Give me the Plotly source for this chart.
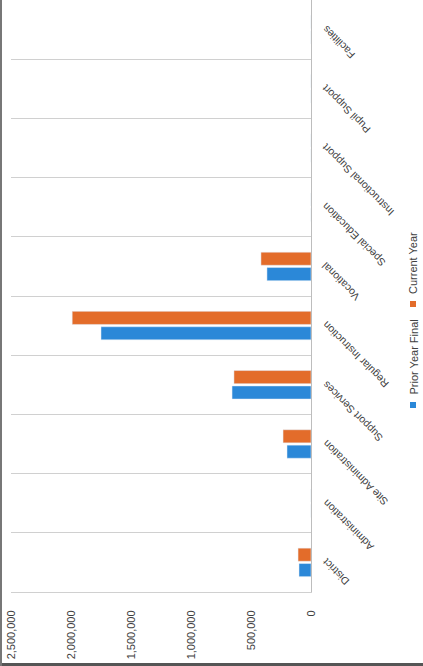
import plotly.graph_objects as go

categories = ["District", "Administration", "Site Administration", "Support Services",
              "Regular Instruction", "Vocational", "Special Education",
              "Instructional Support", "Pupil Support", "Facilities"]
prior_year_final = [100000, 0, 200000, 658000, 1750000, 367000, 0, 0, 0, 0]
current_year = [108000, 0, 233000, 642000, 1990000, 417000, 0, 0, 0, 0]
series_names = ["Prior Year Final", "Current Year"]
tick_values = [0, 500000, 1000000, 1500000, 2000000, 2500000]

BLUE = "#2b88d8"
ORANGE = "#e36c2a"
TXT = "#404040"

W, H = 423, 666
L, R, T, B = 11, 112, 0, 74
plot_w = W - L - R
plot_h = H - T - B

fig = go.Figure()
fig.add_trace(go.Bar(y=categories, x=prior_year_final, orientation="h",
                     name=series_names[0], marker_color=BLUE))
fig.add_trace(go.Bar(y=categories, x=current_year, orientation="h",
                     name=series_names[1], marker_color=ORANGE))

def px_x(px):
    return (px - L) / plot_w

def px_y(py):
    return (T + plot_h - py) / plot_h

annotations = []
for c in categories:
    annotations.append(dict(
        x=px_x(317), xref="paper", y=c, yref="y", yshift=9,
        text=c, textangle=-135, showarrow=False,
        xanchor="left", yanchor="top",
        font=dict(family="Liberation Sans, Arial, sans-serif", size=10.5, color=TXT)))

# rotated legend
legend_items = [(series_names[0], BLUE, 397), (series_names[1], ORANGE, 296)]
shapes = []
for name, col, ybot in legend_items:
    annotations.append(dict(
        x=px_x(413), xref="paper", y=px_y(ybot), yref="paper",
        text=name, textangle=-90, showarrow=False,
        xanchor="center", yanchor="bottom",
        font=dict(family="Liberation Sans, Arial, sans-serif", size=11, color=TXT)))
    shapes.append(dict(type="rect", xref="paper", yref="paper",
                       x0=px_x(410), x1=px_x(416), y0=px_y(ybot + 11), y1=px_y(ybot + 5),
                       fillcolor=col, line=dict(width=0)))

# scan border lines
shapes.append(dict(type="line", xref="paper", yref="paper",
                   x0=px_x(0), x1=px_x(W), y0=px_y(664.5), y1=px_y(664.5),
                   line=dict(color="#555555", width=3)))
shapes.append(dict(type="line", xref="paper", yref="paper",
                   x0=px_x(1), x1=px_x(1), y0=px_y(0), y1=px_y(H),
                   line=dict(color="#777777", width=2)))

fig.update_layout(
    width=W, height=H,
    margin=dict(l=L, r=R, t=T, b=B),
    paper_bgcolor="white", plot_bgcolor="white",
    barmode="group", bargap=0.48, bargroupgap=0.15,
    showlegend=False,
    annotations=annotations, shapes=shapes,
    font=dict(family="Liberation Sans, Arial, sans-serif", color=TXT),
)
fig.update_xaxes(range=[2500000, 0], tickvals=tick_values, tickformat=",",
                 tickangle=-90, showgrid=False, zeroline=False,
                 showline=True, linecolor="#d0d0d0", linewidth=1, mirror=True,
                 ticks="", ticklabelstandoff=13,
                 tickfont=dict(size=11, color=TXT))
fig.update_yaxes(range=[-0.5, 9.5], side="right", showticklabels=False,
                 tickson="boundaries", showgrid=True, gridcolor="#d0d0d0",
                 gridwidth=1, showline=True, linecolor="#bdbdbd", linewidth=1,
                 ticks="")

fig.write_html("out.html")
